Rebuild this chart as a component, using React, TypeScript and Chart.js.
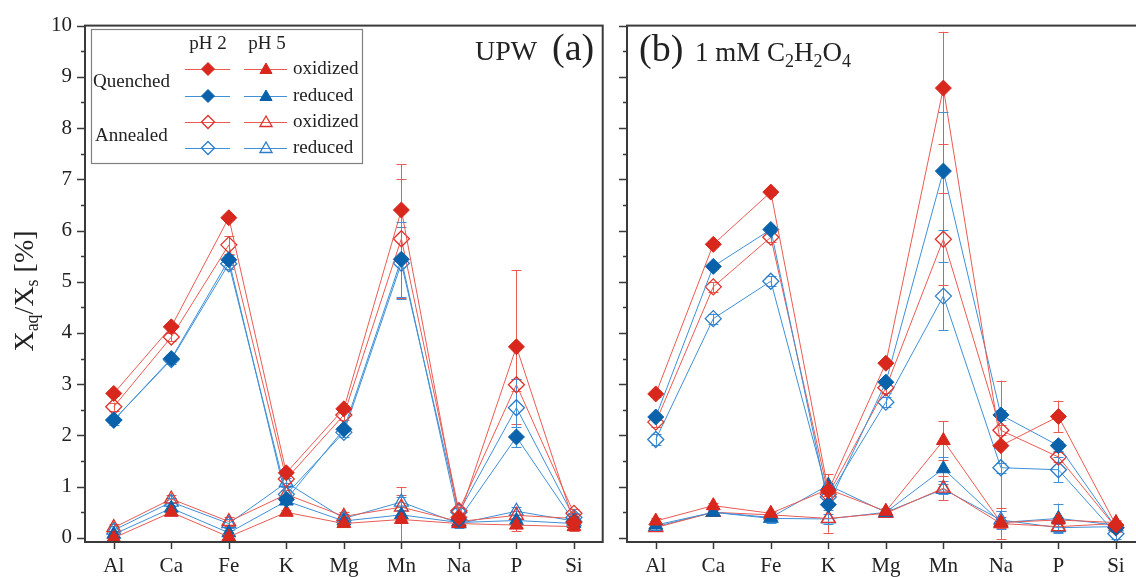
import React, { useEffect, useRef } from 'react';
import { Chart, registerables } from 'chart.js';

Chart.register(...registerables);

// Categories and axis ticks
const ELEMENTS = ['Al', 'Ca', 'Fe', 'K', 'Mg', 'Mn', 'Na', 'P', 'Si'];
const Y_TICKS = [0, 1, 2, 3, 4, 5, 6, 7, 8, 9, 10];

// (a) UPW leaching, X_aq/X_s in %
const upwQuenchedPH2Ox = [2.82, 4.12, 6.25, 1.27, 2.52, 6.40, 0.40, 3.73, 0.30];
const upwQuenchedPH2Red = [2.30, 3.50, 5.43, 0.75, 2.12, 5.44, 0.36, 1.97, 0.32];
const upwAnnealedPH2Ox = [2.56, 3.92, 5.72, 1.15, 2.40, 5.84, 0.53, 2.99, 0.48];
const upwAnnealedPH2Red = [2.30, 3.48, 5.35, 0.85, 2.06, 5.36, 0.50, 2.54, 0.40];
const upwQuenchedPH5Ox = [0.00, 0.50, 0.02, 0.50, 0.28, 0.36, 0.28, 0.25, 0.22];
const upwQuenchedPH5Red = [0.07, 0.58, 0.10, 0.72, 0.33, 0.45, 0.30, 0.34, 0.28];
const upwAnnealedPH5Ox = [0.20, 0.76, 0.32, 0.85, 0.42, 0.60, 0.32, 0.44, 0.38];
const upwAnnealedPH5Red = [0.15, 0.70, 0.28, 1.08, 0.38, 0.70, 0.28, 0.52, 0.33];

// (a) standard deviations
const upwQuenchedPH2OxErr = [0.05, 0.05, 0.05, 0.05, 0.05, 0.89, 0.05, 1.50, 0.05];
const upwQuenchedPH2RedErr = [0.05, 0.05, 0.10, 0.05, 0.05, 0.73, 0.05, 0.20, 0.05];
const upwAnnealedPH2OxErr = [0.08, 0.08, 0.17, 0.08, 0.10, 1.16, 0.08, 0.12, 0.08];
const upwAnnealedPH2RedErr = [0.10, 0.08, 0.10, 0.08, 0.10, 0.70, 0.08, 0.57, 0.08];
const upwQuenchedPH5OxErr = [0.05, 0.05, 0.05, 0.05, 0.05, 0.63, 0.05, 0.12, 0.08];
const upwQuenchedPH5RedErr = [0.05, 0.05, 0.05, 0.05, 0.05, 0.10, 0.05, 0.05, 0.05];
const upwAnnealedPH5OxErr = [0.08, 0.08, 0.08, 0.08, 0.08, 0.23, 0.08, 0.08, 0.08];
const upwAnnealedPH5RedErr = [0.08, 0.08, 0.08, 0.08, 0.08, 0.10, 0.08, 0.08, 0.08];

// (b) 1 mM oxalic acid leaching, X_aq/X_s in %
const oxQuenchedPH2Ox = [2.81, 5.73, 6.75, 0.92, 3.41, 8.78, 1.80, 2.37, 0.25];
const oxQuenchedPH2Red = [2.36, 5.30, 6.02, 0.65, 3.04, 7.16, 2.40, 1.80, 0.20];
const oxAnnealedPH2Ox = [2.26, 4.90, 5.87, 0.85, 2.93, 5.83, 2.10, 1.58, 0.20];
const oxAnnealedPH2Red = [1.92, 4.28, 5.01, 0.80, 2.65, 4.72, 1.37, 1.33, 0.08];
const oxQuenchedPH5Ox = [0.33, 0.63, 0.48, 0.95, 0.52, 1.90, 0.30, 0.35, 0.30];
const oxQuenchedPH5Red = [0.25, 0.50, 0.40, 1.03, 0.50, 1.35, 0.30, 0.38, 0.25];
const oxAnnealedPH5Ox = [0.20, 0.50, 0.45, 0.38, 0.48, 0.97, 0.28, 0.22, 0.28];
const oxAnnealedPH5Red = [0.22, 0.50, 0.38, 0.37, 0.50, 0.95, 0.35, 0.20, 0.22];

// (b) standard deviations
const oxQuenchedPH2OxErr = [0.05, 0.05, 0.05, 0.10, 0.05, 1.10, 1.27, 0.31, 0.05];
const oxQuenchedPH2RedErr = [0.05, 0.05, 0.05, 0.10, 0.05, 1.15, 0.10, 0.10, 0.05];
const oxAnnealedPH2OxErr = [0.10, 0.10, 0.10, 0.10, 0.10, 0.90, 0.10, 0.10, 0.08];
const oxAnnealedPH2RedErr = [0.10, 0.10, 0.10, 0.10, 0.10, 0.66, 0.10, 0.24, 0.10];
const oxQuenchedPH5OxErr = [0.05, 0.05, 0.05, 0.30, 0.05, 0.38, 0.10, 0.05, 0.05];
const oxQuenchedPH5RedErr = [0.05, 0.05, 0.05, 0.05, 0.05, 0.23, 0.05, 0.29, 0.05];
const oxAnnealedPH5OxErr = [0.05, 0.05, 0.05, 0.28, 0.05, 0.23, 0.30, 0.08, 0.05];
const oxAnnealedPH5RedErr = [0.08, 0.08, 0.08, 0.10, 0.08, 0.10, 0.18, 0.08, 0.08];

const FONT = "'Liberation Serif', 'DejaVu Serif', serif";
const TEXT = '#222222';
const AXIS = '#3a3a3a';

const COLORS = {
  red: { mark: '#d8271d', open: '#e0322a', line: '#ea5b52' },
  blue: { mark: '#0a62ab', open: '#2b7dc9', line: '#3f90d7' },
};

type Shape = 'rectRot' | 'triangle';
type Tone = 'red' | 'blue';
type Series = { label: string; values: number[]; errors: number[]; tone: Tone; shape: Shape; filled: boolean };

function seriesSet(
  q2o: number[], q2r: number[], a2o: number[], a2r: number[],
  q5o: number[], q5r: number[], a5o: number[], a5r: number[],
  e: number[][]
): Series[] {
  return [
    { label: 'Quenched pH 2 oxidized', values: q2o, errors: e[0], tone: 'red', shape: 'rectRot', filled: true },
    { label: 'Quenched pH 2 reduced', values: q2r, errors: e[1], tone: 'blue', shape: 'rectRot', filled: true },
    { label: 'Annealed pH 2 oxidized', values: a2o, errors: e[2], tone: 'red', shape: 'rectRot', filled: false },
    { label: 'Annealed pH 2 reduced', values: a2r, errors: e[3], tone: 'blue', shape: 'rectRot', filled: false },
    { label: 'Quenched pH 5 oxidized', values: q5o, errors: e[4], tone: 'red', shape: 'triangle', filled: true },
    { label: 'Quenched pH 5 reduced', values: q5r, errors: e[5], tone: 'blue', shape: 'triangle', filled: true },
    { label: 'Annealed pH 5 oxidized', values: a5o, errors: e[6], tone: 'red', shape: 'triangle', filled: false },
    { label: 'Annealed pH 5 reduced', values: a5r, errors: e[7], tone: 'blue', shape: 'triangle', filled: false },
  ];
}

const UPW_SERIES = seriesSet(
  upwQuenchedPH2Ox, upwQuenchedPH2Red, upwAnnealedPH2Ox, upwAnnealedPH2Red,
  upwQuenchedPH5Ox, upwQuenchedPH5Red, upwAnnealedPH5Ox, upwAnnealedPH5Red,
  [upwQuenchedPH2OxErr, upwQuenchedPH2RedErr, upwAnnealedPH2OxErr, upwAnnealedPH2RedErr,
    upwQuenchedPH5OxErr, upwQuenchedPH5RedErr, upwAnnealedPH5OxErr, upwAnnealedPH5RedErr]
);

const OX_SERIES = seriesSet(
  oxQuenchedPH2Ox, oxQuenchedPH2Red, oxAnnealedPH2Ox, oxAnnealedPH2Red,
  oxQuenchedPH5Ox, oxQuenchedPH5Red, oxAnnealedPH5Ox, oxAnnealedPH5Red,
  [oxQuenchedPH2OxErr, oxQuenchedPH2RedErr, oxAnnealedPH2OxErr, oxAnnealedPH2RedErr,
    oxQuenchedPH5OxErr, oxQuenchedPH5RedErr, oxAnnealedPH5OxErr, oxAnnealedPH5RedErr]
);

type TextPart = { t: string; size: number; dy?: number };
type Label = { x: number; y: number; parts: TextPart[] };

const CANVAS_W = 612;
const CANVAS_H = 577;

function drawParts(ctx: CanvasRenderingContext2D, x: number, y: number, parts: TextPart[]) {
  let cx = x;
  for (const p of parts) {
    ctx.font = `${p.size}px ${FONT}`;
    ctx.fillText(p.t, cx, y + (p.dy || 0));
    cx += ctx.measureText(p.t).width;
  }
}

function partsWidth(ctx: CanvasRenderingContext2D, parts: TextPart[]) {
  let w = 0;
  for (const p of parts) {
    ctx.font = `${p.size}px ${FONT}`;
    w += ctx.measureText(p.t).width;
  }
  return w;
}

function marker(ctx: CanvasRenderingContext2D, shape: Shape, x: number, y: number, r: number, tone: Tone, filled: boolean) {
  const c = COLORS[tone];
  ctx.beginPath();
  if (shape === 'rectRot') {
    ctx.moveTo(x - r, y);
    ctx.lineTo(x, y - r);
    ctx.lineTo(x + r, y);
    ctx.lineTo(x, y + r);
  } else {
    const h = r * Math.sin(Math.PI / 3);
    ctx.moveTo(x, y - r);
    ctx.lineTo(x + h, y + r / 2);
    ctx.lineTo(x - h, y + r / 2);
  }
  ctx.closePath();
  if (filled) {
    ctx.fillStyle = c.mark;
    ctx.fill();
  }
  ctx.strokeStyle = filled ? c.mark : c.open;
  ctx.lineWidth = filled ? 1 : 1.3;
  ctx.stroke();
}

function drawLegend(ctx: CanvasRenderingContext2D) {
  ctx.save();
  ctx.fillStyle = '#ffffff';
  ctx.fillRect(91, 29, 271, 134);
  ctx.strokeStyle = '#808080';
  ctx.lineWidth = 1.2;
  ctx.strokeRect(91.5, 29.5, 271, 134);

  ctx.fillStyle = TEXT;
  ctx.font = `19px ${FONT}`;
  ctx.textBaseline = 'alphabetic';
  ctx.textAlign = 'center';
  ctx.fillText('pH 2', 208, 49);
  ctx.fillText('pH 5', 267, 49);
  ctx.textAlign = 'left';
  ctx.textBaseline = 'middle';
  ctx.fillText('Quenched', 93, 82);
  ctx.fillText('Annealed', 95, 136);

  const rows: { y: number; tone: Tone; filled: boolean; text: string }[] = [
    { y: 69, tone: 'red', filled: true, text: 'oxidized' },
    { y: 96, tone: 'blue', filled: true, text: 'reduced' },
    { y: 122, tone: 'red', filled: false, text: 'oxidized' },
    { y: 148, tone: 'blue', filled: false, text: 'reduced' },
  ];
  for (const row of rows) {
    const c = COLORS[row.tone];
    ctx.strokeStyle = c.line;
    ctx.lineWidth = 1;
    ctx.beginPath();
    ctx.moveTo(185, row.y + 0.5);
    ctx.lineTo(230, row.y + 0.5);
    ctx.moveTo(244, row.y + 0.5);
    ctx.lineTo(287, row.y + 0.5);
    ctx.stroke();
    marker(ctx, 'rectRot', 208, row.y, 6.5, row.tone, row.filled);
    marker(ctx, 'triangle', 266, row.y + 1, 7, row.tone, row.filled);
    ctx.fillStyle = TEXT;
    ctx.font = `19px ${FONT}`;
    ctx.textBaseline = 'middle';
    ctx.fillText(row.text, 293, row.y);
  }
  ctx.restore();
}

function drawYTitle(ctx: CanvasRenderingContext2D) {
  const parts: TextPart[] = [
    { t: 'X', size: 28 },
    { t: 'aq', size: 18, dy: 5 },
    { t: '/X', size: 28 },
    { t: 's', size: 18, dy: 5 },
    { t: ' [%]', size: 28 },
  ];
  ctx.save();
  ctx.translate(33, 291);
  ctx.rotate(-Math.PI / 2);
  ctx.fillStyle = TEXT;
  ctx.textBaseline = 'alphabetic';
  ctx.textAlign = 'left';
  const w = partsWidth(ctx, parts);
  drawParts(ctx, -w / 2, 0, parts);
  ctx.restore();
}

type PanelCfg = {
  offsetX: number;
  showYLabels: boolean;
  labels: Label[];
  legend: boolean;
};

function makeErrorBars() {
  return {
    id: 'errorBars',
    beforeDatasetsDraw(chart: any) {
      const ctx: CanvasRenderingContext2D = chart.ctx;
      const ys = chart.scales.y;
      const area = chart.chartArea;
      ctx.save();
      ctx.beginPath();
      ctx.rect(area.left, area.top, area.right - area.left, area.bottom - area.top);
      ctx.clip();
      ctx.lineWidth = 1;
      chart.data.datasets.forEach((ds: any, i: number) => {
        const meta = chart.getDatasetMeta(i);
        ctx.strokeStyle = ds.errColor;
        meta.data.forEach((pt: any, j: number) => {
          const v = ds.data[j];
          const e = ds.errors[j];
          if (!e) return;
          const x = Math.round(pt.x) + 0.5;
          const yt = ys.getPixelForValue(v + e);
          const yb = ys.getPixelForValue(v - e);
          ctx.beginPath();
          ctx.moveTo(x, yt);
          ctx.lineTo(x, yb);
          ctx.moveTo(x - 5, Math.round(yt) + 0.5);
          ctx.lineTo(x + 5, Math.round(yt) + 0.5);
          ctx.moveTo(x - 5, Math.round(yb) + 0.5);
          ctx.lineTo(x + 5, Math.round(yb) + 0.5);
          ctx.stroke();
        });
      });
      ctx.restore();
    },
  };
}

function makeDecor(cfg: PanelCfg) {
  return {
    id: 'panelDecor',
    afterDraw(chart: any) {
      const ctx: CanvasRenderingContext2D = chart.ctx;
      const { left, right, top, bottom } = chart.chartArea;
      const ys = chart.scales.y;
      const xs = chart.scales.x;
      ctx.save();
      // frame
      ctx.strokeStyle = AXIS;
      ctx.lineWidth = 2;
      ctx.strokeRect(left, top, right - left, bottom - top);
      // y ticks: majors on integers, minors on halves
      ctx.lineWidth = 1.5;
      ctx.beginPath();
      for (let k = 0; k <= 20; k++) {
        const v = k / 2;
        const y = Math.round(ys.getPixelForValue(v)) + 0.5;
        const len = k % 2 === 0 ? 8 : 4;
        ctx.moveTo(left - len, y);
        ctx.lineTo(left, y);
      }
      // x ticks
      ELEMENTS.forEach((_, i) => {
        const x = Math.round(xs.getPixelForValue(i)) + 0.5;
        ctx.moveTo(x, bottom);
        ctx.lineTo(x, bottom + 7);
      });
      ctx.stroke();

      // panel captions
      ctx.fillStyle = TEXT;
      ctx.textAlign = 'left';
      ctx.textBaseline = 'alphabetic';
      for (const lab of cfg.labels) {
        drawParts(ctx, lab.x - cfg.offsetX, lab.y, lab.parts);
      }
      if (cfg.legend) drawLegend(ctx);
      if (cfg.showYLabels) drawYTitle(ctx);
      ctx.restore();
    },
  };
}

function Panel({ series, cfg }: { series: Series[]; cfg: PanelCfg }) {
  const ref = useRef<HTMLCanvasElement>(null);

  useEffect(() => {
    const canvas = ref.current;
    if (!canvas) return;
    const tickFont = { family: FONT, size: 21 };
    const datasets = series.map((s) => {
      const c = COLORS[s.tone];
      return {
        label: s.label,
        data: s.values,
        errors: s.errors,
        errColor: c.line,
        borderColor: c.line,
        backgroundColor: c.line,
        borderWidth: 1,
        tension: 0,
        fill: false,
        pointStyle: s.shape,
        pointRadius: 8,
        pointHoverRadius: 8,
        pointBackgroundColor: s.filled ? c.mark : 'rgba(255,255,255,0)',
        pointBorderColor: s.filled ? c.mark : c.open,
        pointBorderWidth: s.filled ? 1 : 1.3,
      };
    });

    const chart = new Chart(canvas, {
      type: 'line',
      data: { labels: ELEMENTS, datasets: datasets as any },
      options: {
        responsive: false,
        animation: false,
        events: [],
        layout: { padding: { top: 23, right: CANVAS_W - 603, left: 0, bottom: 0 } },
        plugins: {
          legend: { display: false },
          tooltip: { enabled: false },
        },
        scales: {
          x: {
            type: 'category',
            offset: true,
            grid: { display: false, drawTicks: false },
            border: { display: false },
            ticks: { font: tickFont, color: TEXT, padding: 12, autoSkip: false, maxRotation: 0 },
            afterFit: (s: any) => {
              s.height = 35;
            },
          },
          y: {
            type: 'linear',
            min: -0.08,
            max: 10,
            grid: { display: false, drawTicks: false },
            border: { display: false },
            ticks: {
              font: tickFont,
              color: TEXT,
              padding: 13,
              callback: (v: any) => (cfg.showYLabels ? String(v) : ''),
            },
            afterBuildTicks: (s: any) => {
              s.ticks = Y_TICKS.map((v) => ({ value: v }));
            },
            afterFit: (s: any) => {
              s.width = 85;
            },
          },
        },
      } as any,
      plugins: [makeErrorBars(), makeDecor(cfg)],
    });
    return () => chart.destroy();
  }, [series, cfg]);

  return (
    <canvas
      ref={ref}
      width={CANVAS_W}
      height={CANVAS_H}
      style={{ position: 'absolute', left: cfg.offsetX, top: 0, width: CANVAS_W, height: CANVAS_H }}
    />
  );
}

const UPW_CFG: PanelCfg = {
  offsetX: 0,
  showYLabels: true,
  legend: true,
  labels: [
    { x: 475, y: 60, parts: [{ t: 'UPW', size: 28 }] },
    { x: 552, y: 60, parts: [{ t: '(a)', size: 38 }] },
  ],
};

const OX_CFG: PanelCfg = {
  offsetX: 542,
  showYLabels: false,
  legend: false,
  labels: [
    { x: 639, y: 61, parts: [{ t: '(b)', size: 38 }] },
    {
      x: 695,
      y: 61,
      parts: [
        { t: '1 mM C', size: 27 },
        { t: '2', size: 18, dy: 6 },
        { t: 'H', size: 27 },
        { t: '2', size: 18, dy: 6 },
        { t: 'O', size: 27 },
        { t: '4', size: 18, dy: 6 },
      ],
    },
  ],
};

export default function App() {
  return (
    <div
      style={{
        position: 'absolute',
        left: 0,
        top: 0,
        width: 1136,
        height: 577,
        overflow: 'hidden',
        background: '#ffffff',
      }}
    >
      <Panel series={UPW_SERIES} cfg={UPW_CFG} />
      <Panel series={OX_SERIES} cfg={OX_CFG} />
    </div>
  );
}
